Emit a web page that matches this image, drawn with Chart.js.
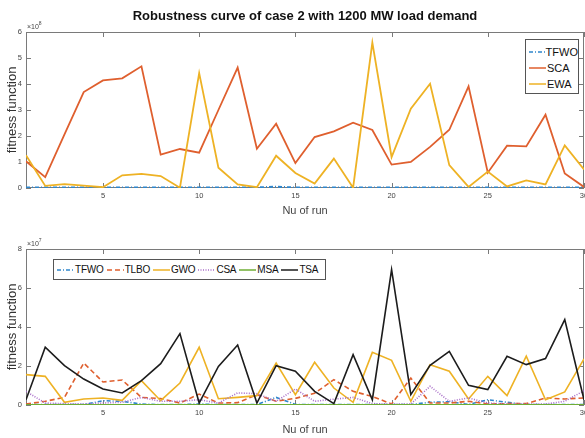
<!DOCTYPE html>
<html lang="es">
<head>
<meta charset="utf-8">
<title>Robustness curve of case 2</title>
<script src="https://cdn.jsdelivr.net/npm/chart.js@4.4.1/dist/chart.umd.min.js"></script>
<style>
  html, body { margin: 0; padding: 0; background: #fff; }
  #lienzo { position: relative; width: 585px; height: 438px; overflow: hidden; }
  .panel { position: absolute; left: 0; width: 585px; height: 219px; }
  #panelSup { top: 0; }
  #panelInf { top: 219px; }
  .leyenda {
    position: absolute; background: #fff; border: 1px solid #555; box-sizing: border-box;
    font-family: 'Liberation Sans', Arial, sans-serif;
    font-size: 11px; color: #111; line-height: 1; white-space: nowrap;
  }
  .leyenda-item { display: flex; align-items: center; }
  .leyenda-item svg { margin-right: 1px; }
  #leyendaSup { left: 525px; top: 39px; width: 54px; height: 55px; padding: 4px 0 0 3px; }
  #leyendaSup .leyenda-item { height: 16px; }
  #leyendaInf { left: 53px; top: 259px; width: 273px; height: 21px; padding-left: 3px; display: flex; align-items: center; font-size: 10px; letter-spacing: -0.2px; }
  #leyendaInf .leyenda-item { margin-right: 3px; }
</style>
</head>
<body>
<div id="lienzo">
  <div class="panel" id="panelSup"><canvas id="graficaSup" width="585" height="219"></canvas></div>
  <div class="panel" id="panelInf"><canvas id="graficaInf" width="585" height="219"></canvas></div>
  <div class="leyenda" id="leyendaSup"></div>
  <div class="leyenda" id="leyendaInf"></div>
</div>
<script>
/* ============================================================
   Curvas de robustez — caso 2, demanda de 1200 MW
   Dos paneles: arriba (×10^8) y abajo (×10^7).
   ============================================================ */

const corridas = [1, 2, 3, 4, 5, 6, 7, 8, 9, 10, 11, 12, 13, 14, 15,
                  16, 17, 18, 19, 20, 21, 22, 23, 24, 25, 26, 27, 28, 29, 30];
const ticksX = [5, 10, 15, 20, 25, 30];

// Panel superior, valores en ×10^8
const tfwoSup = [0.02, 0.02, 0.02, 0.02, 0.02, 0.02, 0.02, 0.02, 0.02, 0.02, 0.02, 0.02, 0.02, 0.05, 0.02,
                 0.02, 0.02, 0.02, 0.02, 0.02, 0.02, 0.02, 0.02, 0.02, 0.02, 0.02, 0.02, 0.02, 0.02, 0.02];
const scaSup  = [1.03, 0.42, 2.06, 3.69, 4.14, 4.22, 4.68, 1.28, 1.50, 1.36, 3.00, 4.63, 1.51, 2.47, 0.96,
                 1.96, 2.18, 2.51, 2.23, 0.90, 1.00, 1.58, 2.24, 3.91, 0.59, 1.63, 1.60, 2.82, 0.56, 0.04];
const ewaSup  = [1.26, 0.08, 0.15, 0.09, 0.03, 0.49, 0.54, 0.46, 0.01, 4.42, 0.78, 0.14, 0.03, 1.24, 0.58,
                 0.17, 1.13, 0.01, 5.59, 1.19, 3.05, 4.01, 0.88, 0.04, 0.63, 0.06, 0.29, 0.14, 1.64, 0.71];
const ticksYSup = [0, 1, 2, 3, 4, 5, 6];

// Panel inferior, valores en ×10^7
const tfwoInf = [0.02, 0.02, 0.02, 0.02, 0.22, 0.19, 0.05, 0.02, 0.02, 0.05, 0.02, 0.02, 0.02, 0.39, 0.03,
                 0.02, 0.02, 0.02, 0.02, 0.02, 0.02, 0.14, 0.17, 0.03, 0.27, 0.14, 0.02, 0.02, 0.02, 0.02];
const tlboInf = [0.05, 0.19, 0.39, 2.15, 1.18, 1.28, 0.39, 0.33, 0.10, 0.56, 0.10, 0.12, 0.53, 0.19, 0.34,
                 0.60, 1.30, 0.70, 0.44, 0.05, 1.38, 0.10, 0.10, 0.19, 0.05, 0.07, 0.07, 0.36, 0.31, 0.36];
const gwoInf  = [1.56, 1.47, 0.14, 0.31, 0.36, 0.24, 1.25, 0.22, 1.13, 2.96, 0.32, 0.39, 0.48, 2.15, 0.53,
                 2.19, 0.87, 0.14, 2.70, 2.29, 0.19, 2.07, 1.73, 0.31, 1.47, 0.48, 2.50, 0.27, 0.67, 2.36];
const csaInf  = [0.70, 0.10, 0.07, 0.05, 0.10, 0.14, 0.39, 0.19, 0.19, 0.27, 0.10, 0.62, 0.58, 0.19, 0.82,
                 0.19, 0.30, 0.39, 0.07, 0.05, 0.05, 0.96, 0.19, 0.36, 0.10, 0.05, 0.05, 0.05, 0.19, 0.73];
const msaInf  = [0.01, 0.01, 0.01, 0.01, 0.01, 0.01, 0.01, 0.01, 0.01, 0.01, 0.01, 0.01, 0.01, 0.01, 0.01,
                 0.01, 0.01, 0.01, 0.01, 0.01, 0.01, 0.01, 0.01, 0.01, 0.01, 0.01, 0.01, 0.01, 0.01, 0.01];
const tsaInf  = [0.27, 2.96, 2.02, 1.33, 0.82, 0.62, 1.25, 2.12, 3.66, 0.10, 1.98, 3.08, 0.10, 2.02, 1.73,
                 0.70, 0.07, 2.58, 0.27, 6.94, 0.53, 2.03, 2.75, 1.01, 0.79, 2.50, 2.07, 2.38, 4.38, 0.27];
const ticksYInf = [0, 2, 4, 6, 8];

const FUENTE = "'Liberation Sans', Arial, sans-serif";
const GRIS_EJE = '#7a7a7a';
const GRIS_TEXTO = '#444';

/**
 * Arma un dataset de línea sin puntos.
 */
function crearSerie(etiqueta, valores, color, guiones, orden, grosor) {
  return {
    label: etiqueta,
    data: corridas.map((x, i) => ({ x: x, y: valores[i] })),
    borderColor: color,
    backgroundColor: color,
    borderWidth: grosor || 1.6,
    borderDash: guiones || [],
    pointRadius: 0,
    tension: 0,
    fill: false,
    order: orden
  };
}

/**
 * Caja estilo MATLAB: borde completo, marcas hacia adentro y
 * el multiplicador ×10^n arriba a la izquierda.
 */
const marcoMatlab = {
  id: 'marcoMatlab',
  beforeDatasetsDraw(chart, args, opts) {
    const { ctx, chartArea: a, scales } = chart;
    ctx.save();
    ctx.strokeStyle = GRIS_EJE;
    ctx.lineWidth = 1;
    ctx.strokeRect(a.left + 0.5, a.top + 0.5, a.right - a.left - 1, a.bottom - a.top - 1);

    ctx.beginPath();
    scales.x.ticks.forEach(t => {
      const px = Math.round(scales.x.getPixelForValue(t.value)) + 0.5;
      ctx.moveTo(px, a.bottom); ctx.lineTo(px, a.bottom - 5);
      ctx.moveTo(px, a.top); ctx.lineTo(px, a.top + 5);
    });
    scales.y.ticks.forEach(t => {
      const py = Math.round(scales.y.getPixelForValue(t.value)) + 0.5;
      ctx.moveTo(a.left, py); ctx.lineTo(a.left + 5, py);
      ctx.moveTo(a.right, py); ctx.lineTo(a.right - 5, py);
    });
    ctx.stroke();

    // multiplicador del eje y
    ctx.fillStyle = GRIS_TEXTO;
    ctx.font = `7px ${FUENTE}`;
    ctx.textBaseline = 'alphabetic';
    ctx.fillText('×10', a.left + 1, a.top - 3);
    const ancho = ctx.measureText('×10').width;
    ctx.font = `5px ${FUENTE}`;
    ctx.fillText(opts.exponente, a.left + 1 + ancho, a.top - 7);
    ctx.restore();
  }
};

/**
 * Dibuja un panel de la figura.
 */
function crearGrafica(idCanvas, series, cfg) {
  const canvas = document.getElementById(idCanvas);
  return new Chart(canvas, {
    type: 'line',
    data: { datasets: series },
    plugins: [marcoMatlab],
    options: {
      responsive: false,
      animation: false,
      layout: { padding: { left: 0, right: 1, top: cfg.titulo ? 0 : cfg.margenSup, bottom: 0 } },
      plugins: {
        legend: { display: false },
        tooltip: { enabled: false },
        title: {
          display: !!cfg.titulo,
          text: cfg.titulo,
          fullSize: false,
          color: '#111',
          font: { family: FUENTE, size: 13, weight: 'bold' },
          padding: { top: 9, bottom: 7.4 }
        },
        marcoMatlab: { exponente: cfg.exponente }
      },
      scales: {
        x: {
          type: 'linear',
          min: 1,
          max: 30,
          afterBuildTicks: eje => { eje.ticks = ticksX.map(v => ({ value: v })); },
          afterFit: eje => { eje.height = cfg.altoEjeX; eje.paddingLeft = 0; eje.paddingRight = 0; },
          grid: { display: false, drawTicks: false },
          border: { display: false },
          ticks: { color: GRIS_TEXTO, font: { family: FUENTE, size: 7.5 }, padding: 3, maxRotation: 0, autoSkip: false },
          title: {
            display: true, text: 'Nu of run', color: GRIS_TEXTO,
            font: { family: FUENTE, size: 11 }, padding: { top: 0, bottom: 1.5 }
          }
        },
        y: {
          min: 0,
          max: cfg.ticksY[cfg.ticksY.length - 1],
          afterBuildTicks: eje => { eje.ticks = cfg.ticksY.map(v => ({ value: v })); },
          afterFit: eje => { eje.width = 26; eje.paddingTop = 0; eje.paddingBottom = 0; },
          grid: { display: false, drawTicks: false },
          border: { display: false },
          ticks: { color: GRIS_TEXTO, font: { family: FUENTE, size: 7.5 }, padding: 4 },
          title: {
            display: true, text: 'fitness function', color: '#333',
            font: { family: FUENTE, size: 13 }, padding: { top: 5, bottom: 0 }
          }
        }
      }
    }
  });
}

/**
 * Leyenda HTML con muestras de línea en SVG.
 */
function construirLeyenda(idContenedor, series, largo) {
  const cont = document.getElementById(idContenedor);
  cont.innerHTML = series.map(s => `
    <div class="leyenda-item">
      <svg width="${largo}" height="4"><line x1="0" y1="2" x2="${largo}" y2="2"
        stroke="${s.borderColor}" stroke-width="1.5" stroke-dasharray="${s.borderDash.join(' ')}"/></svg>
      <span>${s.label}</span>
    </div>`).join('');
}

const AZUL = '#2f86cc';
const NARANJA = '#df5f2e';
const AMARILLO = '#eeb224';
const MORADO = '#a86cc8';
const VERDE = '#6fae35';
const NEGRO = '#1c1c1c';

const seriesSup = [
  crearSerie('TFWO', tfwoSup, AZUL, [4, 2, 1, 2], 3, 2),
  crearSerie('SCA', scaSup, NARANJA, [], 2, 1.8),
  crearSerie('EWA', ewaSup, AMARILLO, [], 1, 1.8)
];

const seriesInf = [
  crearSerie('TFWO', tfwoInf, AZUL, [4, 2, 1, 2], 6),
  crearSerie('TLBO', tlboInf, NARANJA, [5, 3], 5),
  crearSerie('GWO', gwoInf, AMARILLO, [], 4),
  crearSerie('CSA', csaInf, MORADO, [1, 1.5], 3),
  crearSerie('MSA', msaInf, VERDE, [], 2),
  crearSerie('TSA', tsaInf, NEGRO, [], 1)
];

crearGrafica('graficaSup', seriesSup, {
  titulo: 'Robustness curve of case 2 with 1200 MW load demand',
  exponente: '8', ticksY: ticksYSup, altoEjeX: 31
});
crearGrafica('graficaInf', seriesInf, {
  titulo: '', margenSup: 30, exponente: '7', ticksY: ticksYInf, altoEjeX: 33
});

construirLeyenda('leyendaSup', seriesSup, 17);
construirLeyenda('leyendaInf', seriesInf, 17);
</script>
</body>
</html>
